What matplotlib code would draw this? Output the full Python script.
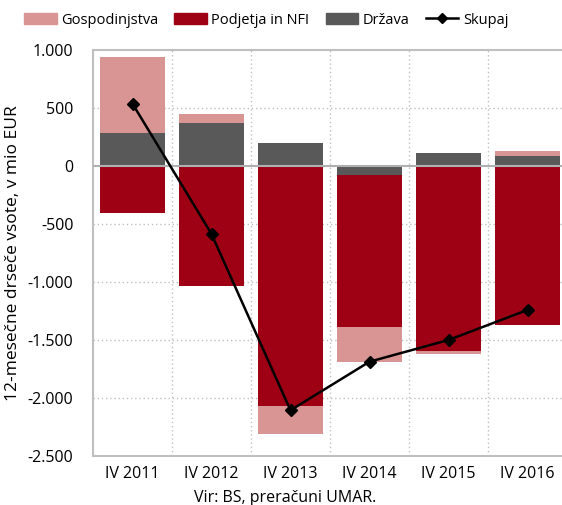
import matplotlib
matplotlib.use("Agg")
import matplotlib.pyplot as plt
from matplotlib.patches import Patch
from matplotlib.lines import Line2D
import numpy as np

plt.rcParams['font.family'] = ['Open Sans', 'DejaVu Sans']

categories = ["IV 2011", "IV 2012", "IV 2013", "IV 2014", "IV 2015", "IV 2016"]
gospodinjstva = [660, 75, -239, -296, -23, 38]
podjetja = [-405, -1034, -2069, -1311, -1595, -1368]
drzava = [282, 373, 201, -80, 115, 89]
skupaj = [537, -586, -2106, -1687, -1500, -1241]
yticks = [1000, 500, 0, -500, -1000, -1500, -2000, -2500]
ylabels = ["1.000", "500", "0", "-500", "-1.000", "-1.500", "-2.000", "-2.500"]

c_g = "#D99594"
c_p = "#9E0014"
c_d = "#595959"

fig = plt.figure(figsize=(5.62, 5.05), dpi=100)
ax = fig.add_axes([93/562, 1 - 456/505, 474/562, 406/505])

x = np.arange(len(categories))
w = 0.82
pos_base = np.zeros(len(x))
neg_base = np.zeros(len(x))

def stack(vals, color):
    vals = np.array(vals, dtype=float)
    bottoms = np.where(vals >= 0, pos_base, neg_base)
    ax.bar(x, vals, w, bottom=bottoms, color=color, zorder=3, linewidth=0)
    pos_base[:] = np.where(vals >= 0, pos_base + vals, pos_base)
    neg_base[:] = np.where(vals < 0, neg_base + vals, neg_base)

stack(drzava, c_d)
stack(podjetja, c_p)
stack(gospodinjstva, c_g)

ax.plot(x, skupaj, color="black", lw=1.8, marker="D", ms=6, zorder=5)

ax.set_xlim(-0.5, len(x) - 0.5)
ax.set_ylim(-2500, 1000)
ax.set_yticks(yticks)
ax.set_yticklabels(ylabels, fontsize=11.5)
ax.set_xticks(x)
ax.set_xticklabels(categories, fontsize=11.5)
ax.tick_params(length=0, pad=7)
ax.tick_params(axis='y', pad=14)

for yv in yticks[1:-1]:
    if yv != 0:
        ax.axhline(yv, color="#c0c0c0", lw=1, ls=(0, (1, 2)), zorder=1)
for xv in np.arange(0.5, len(x) - 0.5, 1):
    ax.axvline(xv, color="#c0c0c0", lw=1, ls=(0, (1, 2)), zorder=1)
ax.axhline(0, color="#b0b0b0", lw=1.5, zorder=4)

for s in ax.spines.values():
    s.set_color("#bfbfbf")
    s.set_linewidth(1.5)

ax.set_ylabel("12-mesečne drseče vsote, v mio EUR", fontsize=12.5, labelpad=5)

handles = [Patch(color=c_g, label="Gospodinjstva"),
           Patch(color=c_p, label="Podjetja in NFI"),
           Patch(color=c_d, label="Država"),
           Line2D([0], [0], color="black", lw=1.8, marker="D", ms=5, label="Skupaj")]
fig.legend(handles=handles, loc="center", bbox_to_anchor=(266/562, 1 - 20/505), ncol=4,
           frameon=False, fontsize=10.5, handlelength=2.25, handleheight=0.75,
           columnspacing=1.1, handletextpad=0.3, borderpad=0)

fig.text(285/562, 1 - 498/505, "Vir: BS, preračuni UMAR.", ha="center", va="center", fontsize=11.5)

fig.savefig("out.png", dpi=100)
